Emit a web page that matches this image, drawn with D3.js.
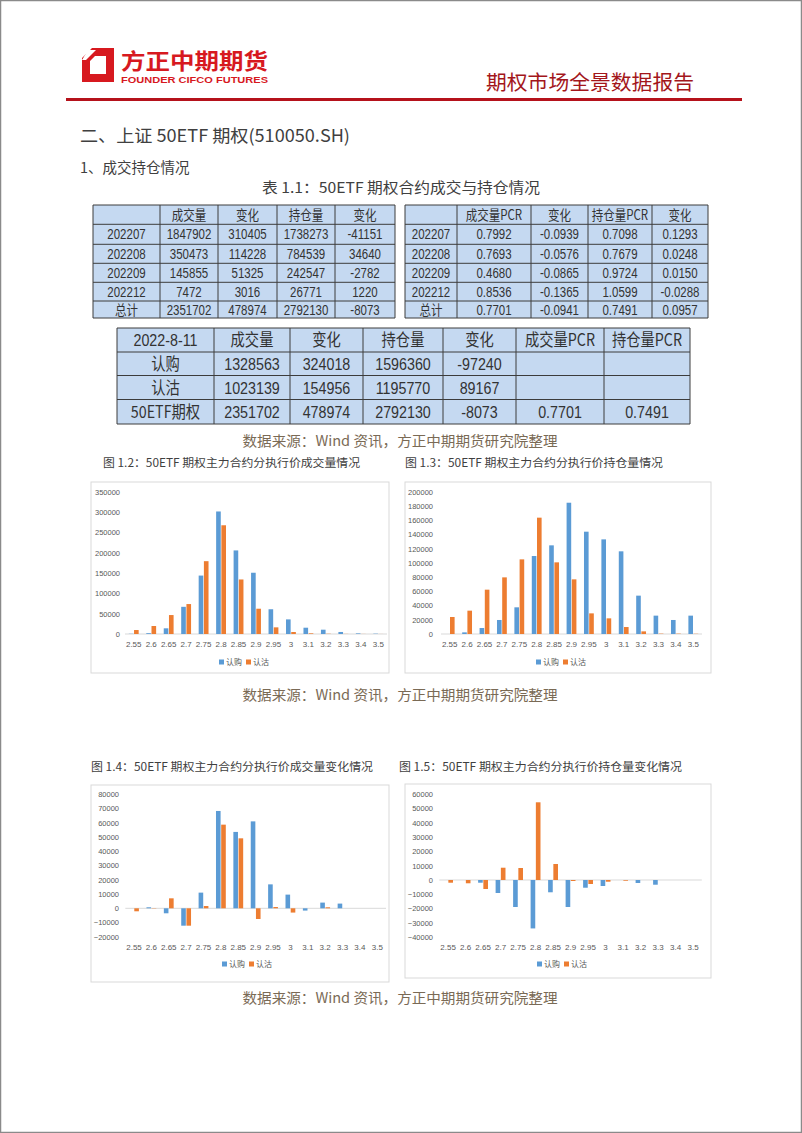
<!DOCTYPE html>
<html><head><meta charset="utf-8">
<script src="https://cdn.jsdelivr.net/npm/d3@7"></script>
<style>
html,body{margin:0;padding:0;background:#fff;}
svg{display:block;}
text{font-family:"Liberation Sans","Noto Sans CJK SC",sans-serif;}
.cjk{font-family:"Noto Sans CJK SC",sans-serif;}
</style></head>
<body>
<svg id="page" width="802" height="1133"></svg>
<script>
// ---------- DATA ----------
const strikes = ["2.55","2.6","2.65","2.7","2.75","2.8","2.85","2.9","2.95","3","3.1","3.2","3.3","3.4","3.5"];
const seriesNames = ["认购","认沽"];
const volCall = [500, 2000, 14000, 67000, 144000, 302000, 206000, 151000, 61000, 36000, 15500, 10600, 5000, 1500, 800];
const volPut  = [9800, 19700, 46700, 73800, 179500, 268000, 134400, 62300, 16400, 4900, 1600, 600, 300, 200, 100];
const oiCall  = [0, 2300, 8400, 19700, 37500, 109600, 124600, 184500, 143800, 133000, 116200, 53900, 25800, 19700, 25800];
const oiPut   = [23900, 32800, 62300, 79600, 104900, 163500, 100700, 76800, 29000, 22000, 9800, 3700, 500, 500, 300];
const volChgCall = [0, 700, -3500, -12200, 11000, 68300, 53600, 61000, 16800, 9600, -1600, 4000, 3300, 0, 0];
const volChgPut  = [-2100, 200, 7000, -12200, 1600, 58700, 49100, -7500, 900, -3000, 0, 700, 0, 0, 0];
const oiChgCall  = [0, 0, -1900, -9100, -18900, -33900, -8600, -18900, -5400, -4200, 0, -2100, -3300, 0, 0];
const oiChgPut   = [-1900, -2300, -6300, 8600, 8400, 54400, 11200, -700, -2800, -1200, -500, 0, 0, 0, 0];
const ticksVol = [0,50000,100000,150000,200000,250000,300000,350000];
const ticksOi = [0,20000,40000,60000,80000,100000,120000,140000,160000,180000,200000];
const ticksVolChg = [-20000,-10000,0,10000,20000,30000,40000,50000,60000,70000,80000];
const ticksOiChg = [-40000,-30000,-20000,-10000,0,10000,20000,30000,40000,50000,60000];

const t1Header = ["","成交量","变化","持仓量","变化"];
const t1Rows = [
  ["202207","1847902","310405","1738273","-41151"],
  ["202208","350473","114228","784539","34640"],
  ["202209","145855","51325","242547","-2782"],
  ["202212","7472","3016","26771","1220"],
  ["总计","2351702","478974","2792130","-8073"]];
const t2Header = ["","成交量PCR","变化","持仓量PCR","变化"];
const t2Rows = [
  ["202207","0.7992","-0.0939","0.7098","0.1293"],
  ["202208","0.7693","-0.0576","0.7679","0.0248"],
  ["202209","0.4680","-0.0865","0.9724","0.0150"],
  ["202212","0.8536","-0.1365","1.0599","-0.0288"],
  ["总计","0.7701","-0.0941","0.7491","0.0957"]];
const t3Header = ["2022-8-11","成交量","变化","持仓量","变化","成交量PCR","持仓量PCR"];
const t3Rows = [
  ["认购","1328563","324018","1596360","-97240","",""],
  ["认沽","1023139","154956","1195770","89167","",""],
  ["50ETF期权","2351702","478974","2792130","-8073","0.7701","0.7491"]];

const sourceText = "数据来源：Wind 资讯，方正中期期货研究院整理";

// ---------- DRAW ----------
const svg = d3.select("#page");
const BLUE = "#5b9bd5", ORANGE = "#ed7d31";

// page border
svg.append("rect").attr("x",0.5).attr("y",0.5).attr("width",801).attr("height",1132)
  .attr("fill","none").attr("stroke","#8a8a8a").attr("stroke-width",1.5);

// logo
const logo = svg.append("g");
logo.append("path").attr("fill","#d7191f").attr("fill-rule","evenodd")
  .attr("d","M82,58 L92,48 L114,48 L114,82 L82,82 Z M90,61 L95,56 L106,56 L106,74 L90,74 Z");
logo.append("path").attr("fill","#fff").attr("d","M88,50 L96,50 L86,60 L82,60 Z");
logo.append("text").attr("class","cjk").attr("x",121).attr("y",69).attr("font-size",22).attr("font-weight",700)
  .attr("fill","#d7191f").attr("textLength",147).attr("lengthAdjust","spacingAndGlyphs").text("方正中期期货");
logo.append("text").attr("x",121).attr("y",83).attr("font-size",9.5).attr("font-weight",700)
  .attr("fill","#d7191f").attr("textLength",147).attr("lengthAdjust","spacingAndGlyphs").text("FOUNDER CIFCO FUTURES");
svg.append("text").attr("class","cjk").attr("x",486).attr("y",90).attr("font-size",20.5)
  .attr("fill","#a3161b").attr("textLength",208).attr("lengthAdjust","spacingAndGlyphs").text("期权市场全景数据报告");
svg.append("rect").attr("x",66).attr("y",98).attr("width",676).attr("height",3).attr("fill","#b5121b");

// headings
svg.append("text").attr("class","cjk").attr("x",80).attr("y",142).attr("font-size",17.5).attr("fill","#404040")
  .attr("textLength",270).attr("lengthAdjust","spacingAndGlyphs").text("二、上证 50ETF 期权(510050.SH)");
svg.append("text").attr("class","cjk").attr("x",80).attr("y",173).attr("font-size",14.5).attr("fill","#404040")
  .text("1、成交持仓情况");
svg.append("text").attr("class","cjk").attr("x",401).attr("y",193).attr("text-anchor","middle").attr("font-size",14.5)
  .attr("fill","#404040").attr("textLength",278).attr("lengthAdjust","spacingAndGlyphs").text("表 1.1：50ETF 期权合约成交与持仓情况");

// tables
function drawTable(header, rows, xs, ys, fs, squeeze) {
  const g = svg.append("g");
  const all = [header].concat(rows);
  g.append("rect").attr("x",xs[0]).attr("y",ys[0]).attr("width",xs[xs.length-1]-xs[0])
    .attr("height",ys[ys.length-1]-ys[0]).attr("fill","#c5d9f1");
  xs.forEach(x => g.append("line").attr("x1",x).attr("x2",x).attr("y1",ys[0]).attr("y2",ys[ys.length-1])
    .attr("stroke","#3c3c3c").attr("stroke-width",1));
  ys.forEach(y => g.append("line").attr("x1",xs[0]).attr("x2",xs[xs.length-1]).attr("y1",y).attr("y2",y)
    .attr("stroke","#3c3c3c").attr("stroke-width",1));
  all.forEach((r,i) => r.forEach((c,j) => {
    if (!c) return;
    const t = g.append("text").attr("class", /[\u4e00-\u9fff]/.test(c) ? "cjk" : null)
      .attr("x",(xs[j]+xs[j+1])/2).attr("y",(ys[i]+ys[i+1])/2).attr("dy","0.36em")
      .attr("text-anchor","middle").attr("font-size",fs).attr("fill","#333").text(c);
    const L = t.node().getComputedTextLength();
    t.attr("textLength", L*squeeze).attr("lengthAdjust","spacingAndGlyphs");
  }));
}
drawTable(t1Header, t1Rows, [93,160,218,277,335,395], [205,224.3,244.3,263.3,282.3,301,318], 14, 0.82);
drawTable(t2Header, t2Rows, [405,457,531,588,652,708], [205,224.3,244.3,263.3,282.3,301,318], 14, 0.82);
drawTable(t3Header, t3Rows, [117,214,290,363,443,516,604,690], [328,352,375.5,399.5,424], 17, 0.84);

function source(y) {
  svg.append("text").attr("class","cjk").attr("x",400).attr("y",y).attr("text-anchor","middle")
    .attr("font-size",14).attr("fill","#7a6a55").attr("textLength",315).attr("lengthAdjust","spacingAndGlyphs")
    .text(sourceText);
}
source(446); source(700); source(1003);

// charts
function barChart(c) {
  const g = svg.append("g");
  g.append("text").attr("class","cjk").attr("x",c.titleX).attr("y",c.titleY).attr("font-size",11.5)
    .attr("fill","#404040").attr("textLength",c.titleLen).attr("lengthAdjust","spacingAndGlyphs").text(c.title);
  g.append("rect").attr("x",c.box[0]).attr("y",c.box[1]).attr("width",c.box[2]).attr("height",c.box[3])
    .attr("fill","#fff").attr("stroke","#d9d9d9").attr("stroke-width",1);
  const x = d3.scaleBand().domain(strikes).range([c.x0,c.x1]);
  const y = d3.scaleLinear().domain([0,c.topVal]).range([c.zeroY,c.topY]);
  const ya = g.append("g").attr("transform",`translate(${c.labelRight},0)`)
    .call(d3.axisLeft(y).tickValues(c.ticks).tickSize(0).tickPadding(0).tickFormat(d3.format("d")));
  ya.select(".domain").remove();
  ya.selectAll("text").attr("font-size",7.5).attr("fill","#595959").attr("font-family","Liberation Sans, sans-serif");
  g.append("line").attr("x1",c.x0).attr("x2",c.x1).attr("y1",y(0)).attr("y2",y(0)).attr("stroke","#d9d9d9");
  const bw = x.bandwidth()*0.265;
  const series = [c.call, c.put];
  const colors = [BLUE, ORANGE];
  series.forEach((vals,si) => {
    g.append("g").selectAll("rect").data(vals.map((v,i)=>({k:strikes[i],v}))).join("rect")
      .attr("x",d => x(d.k) + x.bandwidth()/2 + (si===0 ? -bw-0.3 : 0.3))
      .attr("y",d => Math.min(y(d.v),y(0)))
      .attr("width",bw)
      .attr("height",d => Math.abs(y(d.v)-y(0)))
      .attr("fill",colors[si]);
  });
  const xa = g.append("g").attr("transform",`translate(0,${c.xLabelY})`)
    .call(d3.axisBottom(x).tickSize(0).tickPadding(0));
  xa.select(".domain").remove();
  xa.selectAll("text").attr("font-size",8).attr("fill","#595959").attr("font-family","Liberation Sans, sans-serif");
  const lg = g.append("g").attr("transform",`translate(${c.legendX},${c.legendY})`);
  seriesNames.forEach((n,i) => {
    lg.append("rect").attr("x",i*27).attr("y",-2.5).attr("width",5).attr("height",5).attr("fill",colors[i]);
    lg.append("text").attr("class","cjk").attr("x",i*27+7).attr("y",0).attr("dy","0.35em")
      .attr("font-size",8).attr("fill","#595959").text(n);
  });
}

barChart({title:"图 1.2：50ETF 期权主力合约分执行价成交量情况", titleX:103, titleY:467, titleLen:257,
  box:[91,482,298,191], x0:125, x1:387, zeroY:634, topY:492, topVal:350000, ticks:ticksVol,
  labelRight:120, xLabelY:641, legendX:219, legendY:662, call:volCall, put:volPut});
barChart({title:"图 1.3：50ETF 期权主力合约分执行价持仓量情况", titleX:405, titleY:467, titleLen:258,
  box:[405,482,306,191], x0:441, x1:702, zeroY:634, topY:491.7, topVal:200000, ticks:ticksOi,
  labelRight:433, xLabelY:641, legendX:536, legendY:662, call:oiCall, put:oiPut});
barChart({title:"图 1.4：50ETF 期权主力合约分执行价成交量变化情况", titleX:91, titleY:771, titleLen:282,
  box:[91,785,298,197], x0:125.3, x1:386, zeroY:908.3, topY:794.3, topVal:80000, ticks:ticksVolChg,
  labelRight:119, xLabelY:944, legendX:222, legendY:964, call:volChgCall, put:volChgPut});
barChart({title:"图 1.5：50ETF 期权主力合约分执行价持仓量变化情况", titleX:399, titleY:771, titleLen:283,
  box:[405,784,306,194], x0:439.3, x1:701.8, zeroY:880, topY:794.3, topVal:60000, ticks:ticksOiChg,
  labelRight:433, xLabelY:944, legendX:537, legendY:964, call:oiChgCall, put:oiChgPut});
</script>
</body></html>
